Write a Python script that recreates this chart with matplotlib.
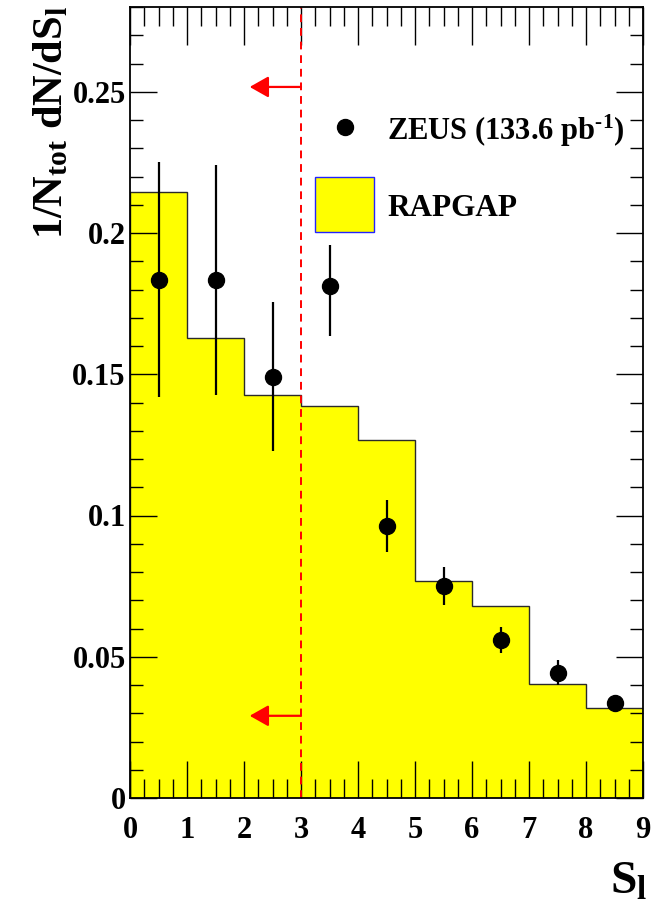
import numpy as np
import matplotlib
matplotlib.use("Agg")
import matplotlib.pyplot as plt
from matplotlib.ticker import MultipleLocator, FixedLocator

plt.rcParams['font.family'] = ['Liberation Serif', 'DejaVu Serif']
plt.rcParams['font.weight'] = 'bold'
plt.rcParams['mathtext.fontset'] = 'custom'
plt.rcParams['mathtext.rm'] = 'Liberation Serif:bold'
plt.rcParams['mathtext.it'] = 'Liberation Serif:bold'
plt.rcParams['mathtext.bf'] = 'Liberation Serif:bold'

# Data
bin_edges = [0, 1, 2, 3, 4, 5, 6, 7, 8, 9]
rapgap = [0.2145, 0.163, 0.1425, 0.1387, 0.1268, 0.0767, 0.0679, 0.0402, 0.0320]
zeus_x = [0.5, 1.5, 2.5, 3.5, 4.5, 5.5, 6.5, 7.5, 8.5]
zeus_y = [0.1835, 0.1835, 0.149, 0.1811, 0.0963, 0.0751, 0.0560, 0.0444, 0.0338]
zeus_err_up = [0.0415, 0.0405, 0.0264, 0.0148, 0.0092, 0.0066, 0.0047, 0.0044, 0.0016]
zeus_err_dn = [0.0415, 0.0407, 0.0262, 0.0174, 0.0092, 0.0067, 0.0048, 0.0043, 0.0016]
cut_value = 3
arrow_y = [0.2517, 0.0291]
arrow_tip = 2.1
ytick_vals = [0, 0.05, 0.1, 0.15, 0.2, 0.25]
ytick_labels = ['0', '0.05', '0.1', '0.15', '0.2', '0.25']

fig = plt.figure(figsize=(6.59, 9.06), dpi=100)
ax = fig.add_axes([130/659, 1-798/906, (643-130)/659, (798-7)/906])

ax.stairs(rapgap, bin_edges, fill=True, color='#ffff00', zorder=1)
ax.stairs(rapgap, bin_edges, fill=False, color='#2a2a2a', lw=1.0, zorder=2)

ax.errorbar(zeus_x, zeus_y, yerr=[zeus_err_dn, zeus_err_up], fmt='o', color='black',
            markersize=11.5, elinewidth=1.6, capsize=0, zorder=5)

ax.axvline(cut_value, color='#ff0000', lw=1.4, ls=(0, (4, 3)), zorder=4)
for ay in arrow_y:
    ax.annotate('', xy=(arrow_tip, ay), xytext=(cut_value, ay),
                arrowprops=dict(arrowstyle='-|>,head_length=1.15,head_width=0.65',
                                mutation_scale=10,
                                color='#ff0000', lw=1.6, shrinkA=0, shrinkB=0), zorder=6)

ax.set_xlim(0, 9)
ax.set_ylim(0, 0.28)

ax.xaxis.set_major_locator(MultipleLocator(1))
ax.xaxis.set_minor_locator(MultipleLocator(0.25))
ax.yaxis.set_major_locator(FixedLocator(ytick_vals))
ax.yaxis.set_minor_locator(MultipleLocator(0.01))
ax.set_yticklabels(ytick_labels)

ax.tick_params(axis='both', which='both', direction='in', top=True, right=True,
               color='black', zorder=10)
ax.tick_params(axis='x', which='major', length=27, width=1.0, labelsize=22, pad=13)
ax.tick_params(axis='x', which='minor', length=13.5, width=1.0)
ax.tick_params(axis='y', which='major', length=19.5, width=1.0, labelsize=22, pad=3)
ax.tick_params(axis='y', which='minor', length=9.5, width=1.0)
for lab in ax.get_xticklabels() + ax.get_yticklabels():
    lab.set_fontweight('bold')
for sp in ax.spines.values():
    sp.set_linewidth(1.3)
    sp.set_zorder(10)
ax.set_axisbelow(False)

# Axis labels
fig.text(647/659, 1-894/906, r'S$_{\mathrm{l}}$', fontsize=34, ha='right', va='baseline',
         fontweight='bold')
fig.text(52/659, 1-6/906, r'1/N$_{\mathrm{tot}}$ dN/dS$_{\mathrm{l}}$', fontsize=30.5,
         rotation=90, ha='center', va='top', fontweight='bold')

# Legend
ax.plot([(345-130)/57.0], [(798-127)/2826.0], 'o', color='black', markersize=11.5,
        zorder=7)
fig.text(387/659, 1-131/906, r'ZEUS (133.6 pb$^{\text{-1}}$)', fontsize=22,
         ha='left', va='center', fontweight='bold')
rect = plt.Rectangle((315/659, 1-232/906), (374-315)/659, (232-177)/906,
                     transform=fig.transFigure, facecolor='#ffff00', edgecolor='#2222ff',
                     lw=1.0, zorder=7)
fig.add_artist(rect)
fig.text(387/659, 1-209/906, 'RAPGAP', fontsize=22.5, ha='left', va='center',
         fontweight='bold')

fig.savefig('out.png', dpi=100)
